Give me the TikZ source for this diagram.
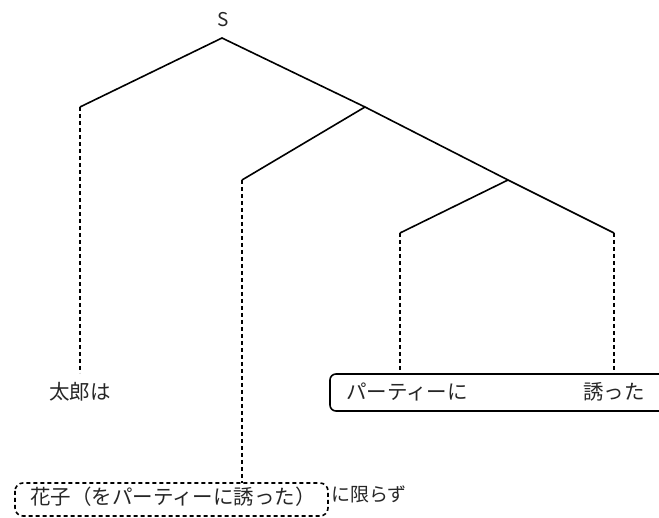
\documentclass[tikz,border=0pt]{standalone}
\usepackage{fontspec}
\setmainfont{Noto Sans CJK JP}
\begin{document}
\begin{tikzpicture}[x=1pt,y=-1pt,
  branch/.style={line width=1.6pt, black},
  trace/.style={line width=1.6pt, black, dash pattern=on 4pt off 3pt},
  lbl/.style={inner sep=0pt, font=\fontsize{20.5}{23}\selectfont, text=black!85},
  smalllbl/.style={inner sep=0pt, font=\fontsize{19}{22}\selectfont, text=black!85},
  solidbox/.style={draw, line width=1.6pt, rounded corners=6pt},
  dashbox/.style={draw, line width=1.6pt, rounded corners=8pt, dash pattern=on 4pt off 3pt}]
\clip (0,0) rectangle (659,518);
% tree points
\node[smalllbl] (S) at (223,20) {S};
\coordinate (top) at (222,38);
\coordinate (l1) at (80,107);
\coordinate (r1) at (365,107);
\coordinate (l2) at (242,180);
\coordinate (r2) at (508,180);
\coordinate (l3) at (400,233);
\coordinate (r3) at (614,233);
% ends of traces
\coordinate (e1) at (80,373);
\coordinate (e2) at (242,483);
\coordinate (e3) at (400,374);
\coordinate (e4) at (614,374);
% branches
\draw[branch] (l1) -- (top) -- (r1) -- (r2) -- (r3);
\draw[branch] (r1) -- (l2);
\draw[branch] (r2) -- (l3);
% traces
\draw[trace] (l1) -- (e1);
\draw[trace] (l2) -- (e2);
\draw[trace] (l3) -- (e3);
\draw[trace] (r3) -- (e4);
% boxes
\draw[solidbox] (330,374) rectangle (680,411);
\draw[dashbox] (15,483) rectangle (328,516);
% texts
\node[lbl] (taro) at (80,392) {太郎は};
\node[lbl] (party) at (407,392) {パーティーに};
\node[lbl] (sasotta) at (614,392) {誘った};
\node[lbl, anchor=west] (hanako) at (30,497) {花子（をパーティーに誘った）};
\node[smalllbl, anchor=west] (kagirazu) at (331,494) {に限らず};
\end{tikzpicture}
\end{document}
